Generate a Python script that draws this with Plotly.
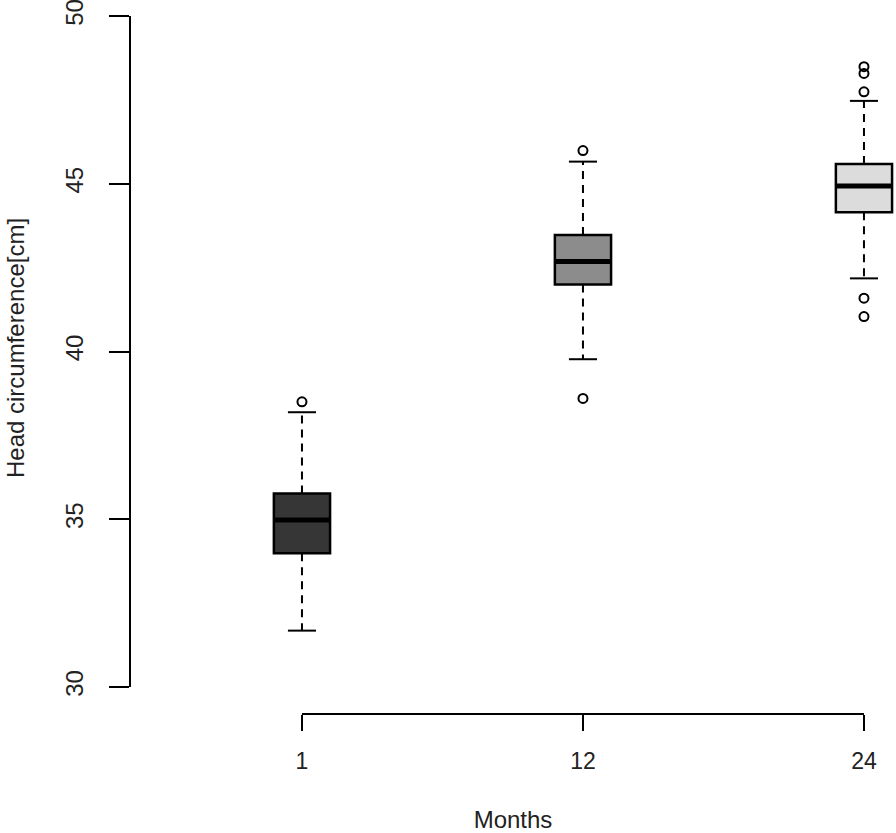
import plotly.graph_objects as go

# ---- data ----
months = ["1", "12", "24"]
positions = [1, 2, 3]
q1 = [33.99, 42.00, 44.15]
median = [34.98, 42.68, 44.93]
q3 = [35.77, 43.47, 45.59]
lower_whisker = [31.68, 39.77, 42.18]
upper_whisker = [38.19, 45.66, 47.47]
outliers = [
    [38.50],
    [45.99, 38.60],
    [48.49, 48.29, 47.74, 41.59, 41.04],
]
fill_colors = ["#363636", "#8c8c8c", "#dcdcdc"]
y_ticks = [30, 35, 40, 45, 50]

box_w = 0.2
cap_w = 0.05

fig = go.Figure()

for i, pos in enumerate(positions):
    fig.add_trace(go.Box(
        x=[pos], q1=[q1[i]], median=[median[i]], q3=[q3[i]],
        lowerfence=[q1[i]], upperfence=[q3[i]],
        width=box_w, fillcolor=fill_colors[i],
        line=dict(color="black", width=2.5), whiskerwidth=0,
        boxpoints=False, showlegend=False, hoverinfo="skip",
    ))
    fig.add_trace(go.Scatter(
        x=[pos - box_w / 2, pos + box_w / 2], y=[median[i], median[i]],
        mode="lines", line=dict(color="black", width=5),
        showlegend=False, hoverinfo="skip",
    ))
    for a, b in [(q3[i], upper_whisker[i]), (q1[i], lower_whisker[i])]:
        fig.add_trace(go.Scatter(
            x=[pos, pos], y=[a, b], mode="lines",
            line=dict(color="black", width=2, dash="8px,6px"),
            showlegend=False, hoverinfo="skip",
        ))
    for v in [upper_whisker[i], lower_whisker[i]]:
        fig.add_trace(go.Scatter(
            x=[pos - cap_w, pos + cap_w], y=[v, v], mode="lines",
            line=dict(color="black", width=2),
            showlegend=False, hoverinfo="skip",
        ))
    fig.add_trace(go.Scatter(
        x=[pos] * len(outliers[i]), y=outliers[i], mode="markers",
        marker=dict(symbol="circle-open", size=9, color="black",
                    line=dict(width=2, color="black")),
        showlegend=False, hoverinfo="skip",
    ))

fig.add_shape(type="line", xref="paper", yref="y", x0=0, x1=0,
              y0=y_ticks[0], y1=y_ticks[-1], line=dict(color="black", width=2))
fig.add_shape(type="line", xref="x", yref="paper", x0=positions[0], x1=positions[-1],
              y0=0, y1=0, line=dict(color="black", width=2))

font_family = "Liberation Sans, Arial, sans-serif"
fig.add_annotation(
    text="Head circumference[cm]", xref="paper", yref="paper",
    x=(16 - 130) / 766, y=(714 - 348) / 700, xanchor="center", yanchor="middle",
    textangle=-90, showarrow=False, font=dict(size=24, color="#222222"),
)

fig.update_layout(
    width=896, height=833,
    margin=dict(l=130, r=0, t=14, b=119),
    plot_bgcolor="white", paper_bgcolor="white",
    font=dict(family=font_family, color="#222222"),
    showlegend=False,
    xaxis=dict(
        range=[0.388, 3.114], tickvals=positions, ticktext=months,
        showgrid=False, zeroline=False, showline=False, automargin=False,
        ticks="outside", ticklen=16, tickwidth=2, tickcolor="black",
        tickfont=dict(size=23), ticklabelstandoff=10, ticklabeloverflow="allow",
        title=dict(text="Months", font=dict(size=24), standoff=40),
    ),
    yaxis=dict(
        range=[29.195, 50.06], tickvals=y_ticks,
        showgrid=False, zeroline=False, showline=False, automargin=False,
        ticks="outside", ticklen=20, tickwidth=2, tickcolor="black",
        tickfont=dict(size=24), tickangle=-90, ticklabelstandoff=16,
        ticklabeloverflow="allow",
    ),
)

fig.write_html("out.html", config={"displayModeBar": False},
               post_script="document.body.style.margin='0px';")
